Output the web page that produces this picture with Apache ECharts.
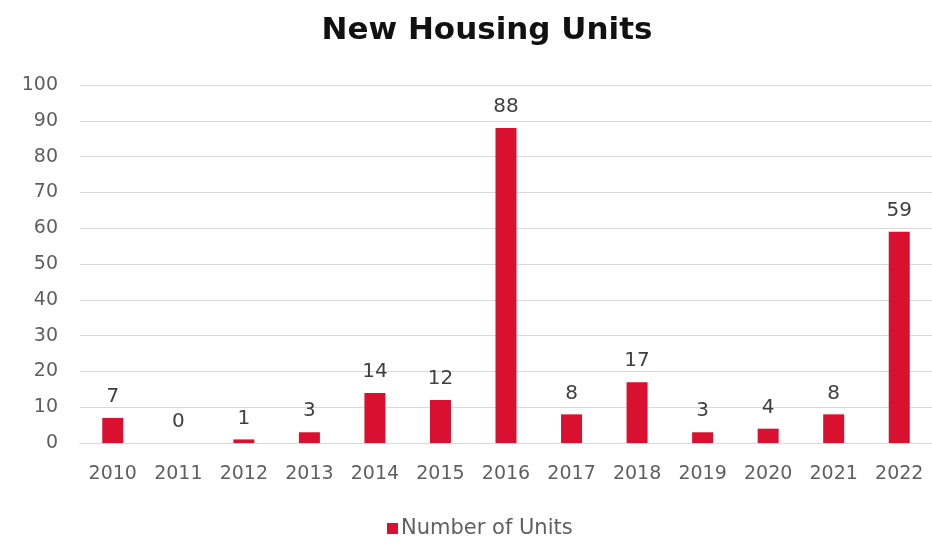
<!DOCTYPE html>
<html>
<head>
<meta charset="utf-8">
<script src="https://cdn.jsdelivr.net/npm/echarts@6/dist/echarts.min.js"></script>
<style>
  html, body { margin: 0; padding: 0; background: #ffffff; }
  #chart { width: 932px; height: 558px; }
</style>
</head>
<body>
<div id="chart"></div>
<script>
// Yearly count of new housing units
const years = ['2010', '2011', '2012', '2013', '2014', '2015', '2016', '2017', '2018', '2019', '2020', '2021', '2022'];
const units = [7, 0, 1, 3, 14, 12, 88, 8, 17, 3, 4, 8, 59];
const yTicks = [0, 10, 20, 30, 40, 50, 60, 70, 80, 90, 100];

const fontFamily = '"DejaVu Sans", "Open Sans", sans-serif';
const textGray = '#5f5f5f';
const barRed = '#d9102f';

const chart = echarts.init(document.getElementById('chart'));
chart.setOption({
  backgroundColor: '#ffffff',
  animation: false,
  title: {
    text: 'New Housing Units',
    left: 482,
    top: 10,
    textAlign: 'center',
    textStyle: { fontFamily: fontFamily, fontSize: 31, fontWeight: 'bold', color: '#111111' }
  },
  legend: {
    data: ['Number of Units'],
    left: 382,
    top: 513,
    icon: 'rect',
    itemWidth: 11,
    itemHeight: 11,
    itemGap: 4,
    textStyle: { fontFamily: fontFamily, fontSize: 21, color: textGray, padding: [0, 0, 0, -2] }
  },
  grid: { left: 80, right: 0, top: 85, bottom: 115, containLabel: false },
  xAxis: {
    type: 'category',
    data: years,
    axisLine: { show: true, lineStyle: { color: '#d9d9d9', width: 1 } },
    axisTick: { show: false },
    axisLabel: { fontFamily: fontFamily, fontSize: 19, color: textGray, margin: 22 }
  },
  yAxis: {
    type: 'value',
    min: yTicks[0],
    max: yTicks[yTicks.length - 1],
    interval: 10,
    axisLine: { show: false },
    axisTick: { show: false },
    splitLine: { lineStyle: { color: '#d9d9d9', width: 1 } },
    axisLabel: { fontFamily: fontFamily, fontSize: 19, color: textGray, margin: 22 }
  },
  series: [{
    name: 'Number of Units',
    type: 'bar',
    data: units,
    barWidth: 21,
    itemStyle: { color: barRed },
    label: {
      show: true,
      position: 'top',
      distance: 11,
      fontFamily: fontFamily,
      fontSize: 20,
      color: '#404040'
    }
  }]
});
</script>
</body>
</html>
